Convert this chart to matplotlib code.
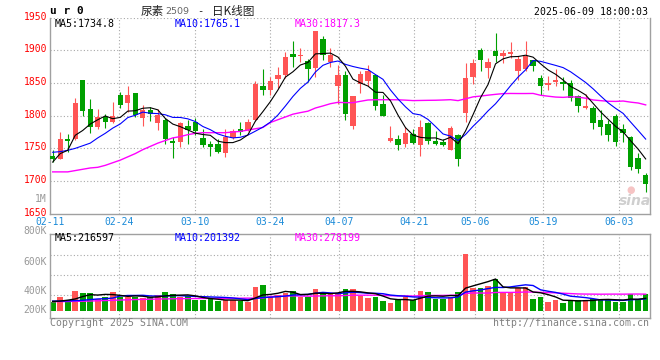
import matplotlib
matplotlib.use('Agg')
import matplotlib.pyplot as plt
import numpy as np
import pandas as pd

# ---------------- data ----------------
dates = ['02-11','02-12','02-13','02-14','02-17','02-18','02-19','02-20','02-21',
         '02-24','02-25','02-26','02-27','02-28',
         '03-03','03-04','03-05','03-06','03-07','03-10','03-11','03-12','03-13','03-14',
         '03-17','03-18','03-19','03-20','03-21','03-24','03-25','03-26','03-27','03-28','03-31',
         '04-01','04-02','04-03','04-07','04-08','04-09','04-10','04-11','04-14','04-15','04-16',
         '04-17','04-18','04-21','04-22','04-23','04-24','04-25','04-28','04-29','04-30',
         '05-06','05-07','05-08','05-09','05-12','05-13','05-14','05-15','05-16',
         '05-19','05-20','05-21','05-22','05-23','05-26','05-27','05-28','05-29','05-30',
         '06-03','06-04','06-05','06-06','06-09']

opens  = [1739,1733,1764,1764,1854,1811,1783,1798,1790,1831,1819,1834,1797,1808,1789,1794,
          1762,1760,1785,1791,1766,1756,1756,1743,1766,1779,1778,1793,1846,1839,1856,1863,
          1895,1891,1883,1873,1918,1882,1846,1862,1784,1849,1853,1863,1818,1761,1765,1757,
          1772,1755,1789,1762,1759,1748,1770,1804,1860,1900,1873,1899,1891,1894,1868,1872,
          1885,1857,1847,1851,1852,1850,1830,1812,1812,1794,1787,1799,1780,1768,1736,1710]
highs  = [1748,1775,1772,1827,1855,1825,1810,1803,1821,1837,1845,1834,1817,1814,1810,1797,
          1767,1791,1793,1797,1780,1762,1765,1779,1779,1791,1795,1853,1872,1859,1874,1898,
          1914,1903,1887,1930,1922,1904,1878,1868,1830,1869,1877,1864,1831,1784,1771,1783,
          1780,1794,1790,1776,1765,1784,1772,1880,1887,1904,1888,1926,1900,1913,1892,1915,
          1885,1863,1861,1871,1859,1854,1831,1833,1815,1809,1793,1802,1788,1769,1743,1712]
lows   = [1729,1733,1744,1763,1799,1773,1779,1781,1789,1812,1806,1798,1784,1792,1778,1757,
          1735,1752,1757,1770,1752,1738,1743,1737,1765,1771,1776,1792,1831,1831,1842,1857,
          1874,1882,1851,1859,1885,1874,1818,1794,1780,1834,1846,1808,1799,1760,1747,1752,
          1757,1738,1756,1755,1753,1748,1723,1791,1849,1868,1858,1882,1880,1888,1854,1869,
          1869,1832,1840,1845,1840,1823,1806,1810,1780,1771,1762,1754,1760,1717,1712,1683]
closes = [1734,1765,1761,1820,1807,1783,1798,1790,1799,1817,1831,1801,1809,1803,1801,1765,
          1758,1789,1778,1776,1755,1752,1744,1767,1776,1775,1791,1849,1840,1853,1863,1890,
          1890,1892,1872,1929,1893,1893,1862,1802,1830,1864,1869,1815,1800,1766,1755,1773,
          1758,1782,1761,1756,1755,1781,1733,1858,1881,1885,1882,1891,1896,1897,1887,1892,
          1876,1845,1850,1854,1848,1827,1815,1815,1789,1783,1771,1760,1773,1721,1719,1696]

volumes = [157,245,192,350,321,321,210,251,332,251,239,251,222,239,280,332,297,239,262,192,
           192,204,181,192,192,181,157,420,455,239,280,321,350,251,251,385,309,321,321,385,
           385,262,233,251,175,146,192,239,192,350,332,210,210,251,332,997,408,396,437,560,
           309,321,396,426,210,239,163,192,140,192,192,192,210,210,210,163,163,297,192,297]
volumes = [v * 950 for v in volumes]

# moving-average values at the start of the window (need earlier history)
ma5_head  = [1729, 1742, 1747, 1770]
ma10_head = [1744, 1745, 1747, 1750, 1754, 1758, 1766, 1773, 1781]
ma30_head = [1714, 1714, 1714, 1716, 1718, 1720, 1721, 1724, 1728, 1732, 1737, 1742, 1748,
             1753, 1758, 1762, 1766, 1768, 1771, 1773, 1774, 1774, 1774, 1774, 1775, 1776,
             1778, 1780, 1782]
vma5_head  = [160000, 165000, 180000, 200000]
vma10_head = [165000, 165000, 168000, 172000, 178000, 190000, 200000, 205000, 215000]
vma30_head = [155000, 156000, 158000, 160000, 163000, 166000, 170000, 174000, 178000, 182000,
              186000, 190000, 193000, 196000, 199000, 201000, 203000, 205000, 206000, 207000,
              208000, 209000, 210000, 211000, 212000, 213000, 214000, 215000, 216000]

price_ticks = [1650, 1700, 1750, 1800, 1850, 1900, 1950]
date_ticks = ['02-11','02-24','03-10','03-24','04-07','04-21','05-06','05-19','06-03']
vol_tick_labels = ['1M', '800K', '600K', '400K', '200K']

# ---------------- helpers ----------------
def with_head(series, n, head):
    s = pd.Series(series, dtype=float).rolling(n).mean().to_numpy()
    s[:len(head)] = head
    return s

ma5 = with_head(closes, 5, ma5_head)
ma10 = with_head(closes, 10, ma10_head)
ma30 = with_head(closes, 30, ma30_head)
vma5 = with_head(volumes, 5, vma5_head)
vma10 = with_head(volumes, 10, vma10_head)
vma30 = with_head(volumes, 30, vma30_head)

W, H = 660, 360
fig = plt.figure(figsize=(W / 100, H / 100), dpi=100)
fig.patch.set_facecolor('white')

def fx(x): return x / W
def fy(y): return 1 - y / H

BOX_L, BOX_R = 50.5, 649.5
MAIN_T, MAIN_B = 17.7, 213.7
VOL_T, VOL_B = 234.3, 318.3
C0, STEP = 52.7, 7.506  # first candle centre, candle spacing (px)

ax = fig.add_axes([fx(BOX_L), fy(MAIN_B), (BOX_R - BOX_L) / W, (MAIN_B - MAIN_T) / H])
axv = fig.add_axes([fx(BOX_L), fy(VOL_B), (BOX_R - BOX_L) / W, (VOL_B - VOL_T) / H])

x = np.arange(len(closes))
xlim = ((BOX_L - C0) / STEP, (BOX_R - C0) / STEP)

RED = '#ff5555'
GREEN = '#00a000'
GRID = '#a8a8a8'
FRAME = '#a0a0a0'
MONO = 'DejaVu Sans Mono'

o = np.array(opens, float); c = np.array(closes, float)
hi = np.array(highs, float); lo = np.array(lows, float)
up = c >= o
cols = np.where(up, RED, GREEN)

# grid positions (Sina spaces them evenly across the box)
tick_idx = [dates.index(d) for d in date_ticks]
grid_x = [xlim[0] + i / (len(dates) - 1) * (xlim[1] - xlim[0]) for i in tick_idx]

for a in (ax, axv):
    a.set_xlim(*xlim)
    a.set_xticks([]); a.set_yticks([])
    for gx in grid_x[1:]:
        a.axvline(gx, color=GRID, lw=0.8, ls=(0, (1, 2)), zorder=0)
    for sp in a.spines.values():
        sp.set_color(FRAME); sp.set_linewidth(1.0)

# ---- main panel ----
ax.set_ylim(1650, 1950)
for p in price_ticks[1:]:
    ax.axhline(p, color=GRID, lw=0.8, ls=(0, (1, 2)), zorder=0)
ax.spines['top'].set_visible(False)

ax.vlines(x, lo, hi, colors=cols, lw=0.8, zorder=2)
body_h = np.maximum(np.abs(c - o), 2.0)
ax.bar(x, body_h, bottom=np.minimum(o, c), width=0.72, color=cols, linewidth=0, zorder=3)

ax.plot(x, ma30, color='#ff00ff', lw=1.0, zorder=4)
ax.plot(x, ma10, color='#0000ff', lw=0.8, zorder=4)
ax.plot(x, ma5, color='black', lw=0.8, zorder=5)

# ---- volume panel ----
px_per = 17500 * 0.95
axv.set_ylim(-(VOL_B - 311) * px_per, (311 - VOL_T) * px_per)
for gy in (255, 275, 295):
    axv.axhline((311 - gy) * px_per, color=GRID, lw=0.8, ls=(0, (1, 2)), zorder=0)
axv.bar(x, volumes, width=0.75, color=cols, linewidth=0, zorder=2)
axv.plot(x, vma30, color='#ff00ff', lw=1.0, zorder=4)
axv.plot(x, vma10, color='#0000ff', lw=1.0, zorder=4)
axv.plot(x, vma5, color='black', lw=1.0, zorder=5)

# ---------------- text ----------------
def T(px, py, s, **kw):
    kw.setdefault('family', MONO)
    kw.setdefault('size', 7.1)
    kw.setdefault('va', 'center')
    fig.text(fx(px), fy(py), s, **kw)

# price labels
for p in price_ticks:
    ypx = MAIN_B - (p - 1650) / 300 * (MAIN_B - MAIN_T)
    T(47, ypx - 1, str(p), ha='right', color='#ff0000', size=7.0)

# volume axis labels (Sina places them at these rows)
for lab, ypx in zip(vol_tick_labels, [199, 231, 262, 291, 310]):
    T(47, ypx, lab, ha='right', color='#999999', size=7.0)

# date labels
for d, i in zip(date_ticks, tick_idx):
    gx = BOX_L + i / (len(dates) - 1) * (BOX_R - BOX_L)
    T(gx, 222, d, ha='center', color='#1a8ad8', size=7.0)

# headers
T(49.5, 11.5, 'u r 0', ha='left', color='black', size=8, weight='bold')
cjk = ['Noto Sans CJK SC', 'DejaVu Sans']
T(140.5, 11.5, '尿素', ha='left', color='#222222', size=8.4, family=cjk)
T(165.5, 12, '2509', ha='left', color='#666666', size=6.8, family='DejaVu Sans')
T(197, 11.5, '-', ha='left', color='#222222', size=7.5)
T(212, 11.5, '日K线图', ha='left', color='#222222', size=8.4, family=cjk)
T(648.5, 11.7, '2025-06-09 18:00:03', ha='right', color='black', size=7.1)

# MA legends
T(54.3, 24.3, 'MA5:1734.8', ha='left', color='black', size=7.2)
T(174.3, 24.3, 'MA10:1765.1', ha='left', color='#0000ff', size=7.2)
T(295, 24.3, 'MA30:1817.3', ha='left', color='#ff00ff', size=7.2)
T(54.3, 238.3, 'MA5:216597', ha='left', color='black', size=7.2)
T(174.3, 238.3, 'MA10:201392', ha='left', color='#0000ff', size=7.2)
T(294.3, 238.3, 'MA30:278199', ha='left', color='#ff00ff', size=7.2)

# footer
T(50, 323.5, 'Copyright 2025 SINA.COM', ha='left', color='#808080', size=7.1)
T(649, 323.5, 'http://finance.sina.com.cn', ha='right', color='#808080', size=7.1)

# watermark
T(631, 190, '●', ha='center', color='#f6c4c4', size=7, family='DejaVu Sans')
T(635, 201, 'sina', ha='center', color='#cfcfcf', size=10, family='DejaVu Sans',
  style='italic', weight='bold')

fig.savefig('out.png', dpi=100, facecolor='white')
